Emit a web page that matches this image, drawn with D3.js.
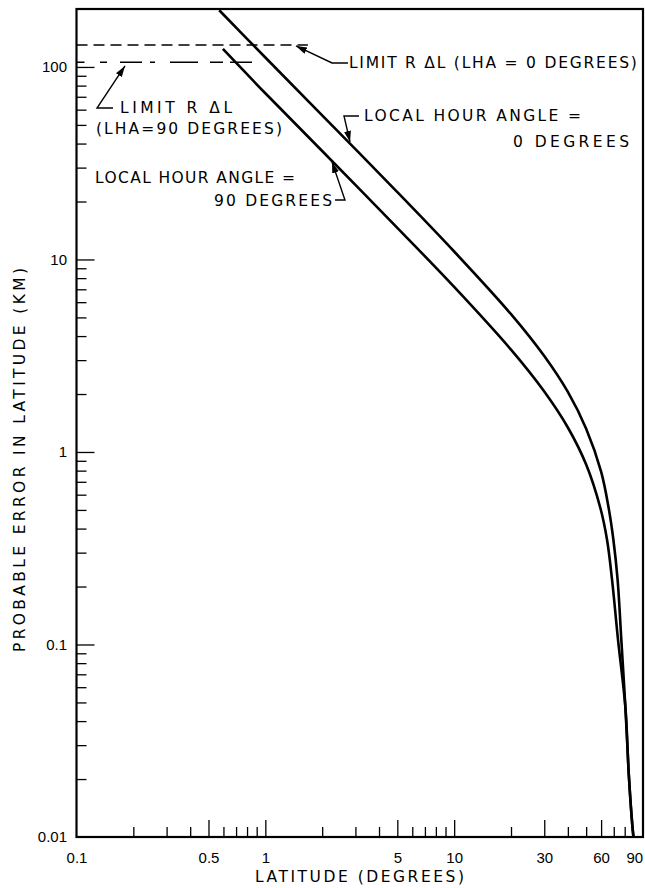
<!doctype html>
<html lang="en">
<head>
<meta charset="utf-8">
<title>Probable error in latitude</title>
<style type="text/css">
	body {
		margin: 0;
		background-color: white;
	}
	svg {
		display: block;
		background-color: white;
		font-family: "DejaVu Sans", "Liberation Sans", sans-serif;
	}
	.axis path { display: none; }
	.axis line { stroke: black; stroke-width: 1.3px; }
	.axis text { font-size: 15px; fill: black; }
	rect.frame { fill: none; stroke: black; stroke-width: 2.2px; }
	path.curve { fill: none; stroke: black; stroke-width: 2.6px; }
	path.limit { fill: none; stroke: black; stroke-width: 1.6px; }
	path.leader { fill: none; stroke: black; stroke-width: 1.4px; }
	text.note, text.title { font-size: 15.5px; fill: black; }
</style>
</head>
<body>
<script src="https://cdnjs.cloudflare.com/ajax/libs/d3/7.8.5/d3.min.js"></script>
<script type="text/javascript">
	// ticks
	var latTicksMajor = [0.5, 1, 5, 10, 30, 60];
	var latTicksMinor = [0.2, 0.3, 0.4, 0.6, 0.7, 0.8, 0.9, 2, 3, 4, 6, 7, 8, 9, 20, 40, 50, 70, 80];
	var latTickLabels = [0.1, 0.5, 1, 5, 10, 30, 60, 90];
	var errTicksMajor = [0.1, 1, 10, 100];
	var errTickLabels = [0.01, 0.1, 1, 10, 100];
	var errTicksMinor = [];
	[0.01, 0.1, 1, 10].forEach(function(dec) {
		[2, 3, 4, 5, 6, 7, 8, 9].forEach(function(m) { errTicksMinor.push(+(dec * m).toPrecision(3)); });
	});

	// curves (latitude in degrees, error in km)
	var latLHA0 = [0.57, 1, 2, 5, 10, 20, 30, 40, 50, 60, 65.6, 69.7, 73.4, 76.8, 80.7, 84, 87.6, 89];
	var errLHA0 = [197, 112, 56, 22.4, 11.0, 5.2, 3.15, 2.05, 1.32, 0.79, 0.52, 0.35, 0.216, 0.105, 0.047, 0.0215, 0.0118, 0.01];
	var latLHA90 = [0.596, 1, 2, 5, 10, 20, 30, 40, 50, 59.5, 64.5, 68.6, 73.8, 80.7, 84, 87.6, 89];
	var errLHA90 = [124, 73, 36.6, 14.6, 7.2, 3.4, 2.06, 1.34, 0.86, 0.51, 0.35, 0.216, 0.105, 0.047, 0.0215, 0.0118, 0.01];

	// limit R dL lines
	var limitErr = [130, 105.7];
	var limitLatEnd = [1.68, 0.85];
	var limitDash = ["11,6", "8,15.5,7,13,22,8,5,15,28,12,13,7,22"];

	var fullwidth = 645;
	var fullheight = 888;
	var margin = { top: 9, right: 2, bottom: 51, left: 76.5 };
	var width = fullwidth - margin.left - margin.right;
	var height = fullheight - margin.top - margin.bottom;

	var xScale = d3.scaleLog().domain([0.1, 100]).range([0, width]);
	var yScale = d3.scaleLog().domain([0.01, 200]).range([height, 0]);

	var root = d3.select("body").append("svg")
		.attr("width", fullwidth)
		.attr("height", fullheight);

	var defs = root.append("defs");
	defs.append("marker")
		.attr("id", "arrow")
		.attr("markerUnits", "userSpaceOnUse")
		.attr("markerWidth", 12)
		.attr("markerHeight", 8)
		.attr("refX", 11)
		.attr("refY", 3.5)
		.attr("orient", "auto")
		.append("path")
		.attr("d", "M0,0 L11,3.5 L0,7 Z")
		.attr("fill", "black");
	defs.append("clipPath").attr("id", "plotclip")
		.append("rect").attr("width", width).attr("height", height);

	var svg = root.append("g")
		.attr("transform", "translate(" + margin.left + "," + margin.top + ")");

	// ticks (inward)
	svg.append("g").attr("class", "axis")
		.attr("transform", "translate(0," + height + ")")
		.call(d3.axisBottom(xScale).tickValues(latTicksMinor).tickSize(-10).tickFormat(""));
	svg.append("g").attr("class", "axis")
		.attr("transform", "translate(0," + height + ")")
		.call(d3.axisBottom(xScale).tickValues(latTicksMajor).tickSize(-17).tickFormat(""));
	svg.append("g").attr("class", "axis")
		.attr("transform", "translate(0," + height + ")")
		.call(d3.axisBottom(xScale).tickValues(latTickLabels).tickSize(0).tickPadding(15)
			.tickFormat(function(d) { return String(d); }));

	svg.append("g").attr("class", "axis")
		.call(d3.axisLeft(yScale).tickValues(errTicksMinor).tickSize(-10).tickFormat(""));
	svg.append("g").attr("class", "axis")
		.call(d3.axisLeft(yScale).tickValues(errTicksMajor).tickSize(-18).tickFormat(""));
	svg.append("g").attr("class", "axis")
		.call(d3.axisLeft(yScale).tickValues(errTickLabels).tickSize(0).tickPadding(9.5)
			.tickFormat(function(d) { return String(d); }));

	// frame
	svg.append("rect").attr("class", "frame")
		.attr("width", width).attr("height", height);

	var plot = svg.append("g").attr("clip-path", "url(#plotclip)");

	// limit lines
	limitErr.forEach(function(v, i) {
		plot.append("path")
			.attr("class", "limit")
			.attr("stroke-dasharray", limitDash[i])
			.attr("d", d3.line()([[xScale(0.1), yScale(v)], [xScale(limitLatEnd[i]), yScale(v)]]));
	});

	// curves
	var line = d3.line()
		.x(function(d) { return xScale(d[0]); })
		.y(function(d) { return yScale(d[1]); })
		.curve(d3.curveCatmullRom.alpha(0.5));
	[[latLHA0, errLHA0], [latLHA90, errLHA90]].forEach(function(s) {
		plot.append("path")
			.attr("class", "curve")
			.attr("d", line(s[0].map(function(l, i) { return [l, s[1][i]]; })));
	});

	// annotations, anchored in data units
	var leaders = [
		[[2.74, 104.9], [2.255, 104.9], [1.453, 128.5]],
		[[0.1561, 61.2], [0.1284, 61.2], [0.1806, 101.2]],
		[[3.134, 55.6], [2.609, 55.6], [2.808, 40.8]],
		[[2.339, 20.37], [2.641, 20.37], [2.255, 32.1]]
	];
	var ptLine = d3.line()
		.x(function(d) { return xScale(d[0]); })
		.y(function(d) { return yScale(d[1]); });
	leaders.forEach(function(pts) {
		svg.append("path")
			.attr("class", "leader")
			.attr("marker-end", "url(#arrow)")
			.attr("d", ptLine(pts));
	});

	var notes = [
		{ t: "LIMIT R \u0394L (LHA = 0 DEGREES)", lat: 2.77, err: 98.4, len: 288 },
		{ t: "LIMIT R \u0394L", lat: 0.170, err: 57.67, len: 112 },
		{ t: "(LHA=90 DEGREES)", lat: 0.1268, err: 44.6, len: 186 },
		{ t: "LOCAL HOUR ANGLE =", lat: 3.33, err: 52.4, len: 217 },
		{ t: "0 DEGREES", lat: 20.5, err: 38.6, len: 116 },
		{ t: "LOCAL HOUR ANGLE =", lat: 0.1253, err: 24.96, len: 200 },
		{ t: "90 DEGREES", lat: 0.535, err: 18.95, len: 118 }
	];
	svg.selectAll("text.note")
		.data(notes)
		.enter()
		.append("text")
		.attr("class", "note")
		.attr("x", function(d) { return xScale(d.lat); })
		.attr("y", function(d) { return yScale(d.err); })
		.attr("textLength", function(d) { return d.len; })
		.attr("lengthAdjust", "spacing")
		.text(function(d) { return d.t; });

	// axis titles
	root.append("text").attr("class", "title")
		.attr("x", 255).attr("y", 882)
		.attr("textLength", 209).attr("lengthAdjust", "spacing")
		.text("LATITUDE (DEGREES)");
	root.append("text").attr("class", "title")
		.attr("transform", "translate(25,652) rotate(-90)")
		.attr("textLength", 384).attr("lengthAdjust", "spacing")
		.text("PROBABLE ERROR IN LATITUDE (KM)");
</script>
</body>
</html>
